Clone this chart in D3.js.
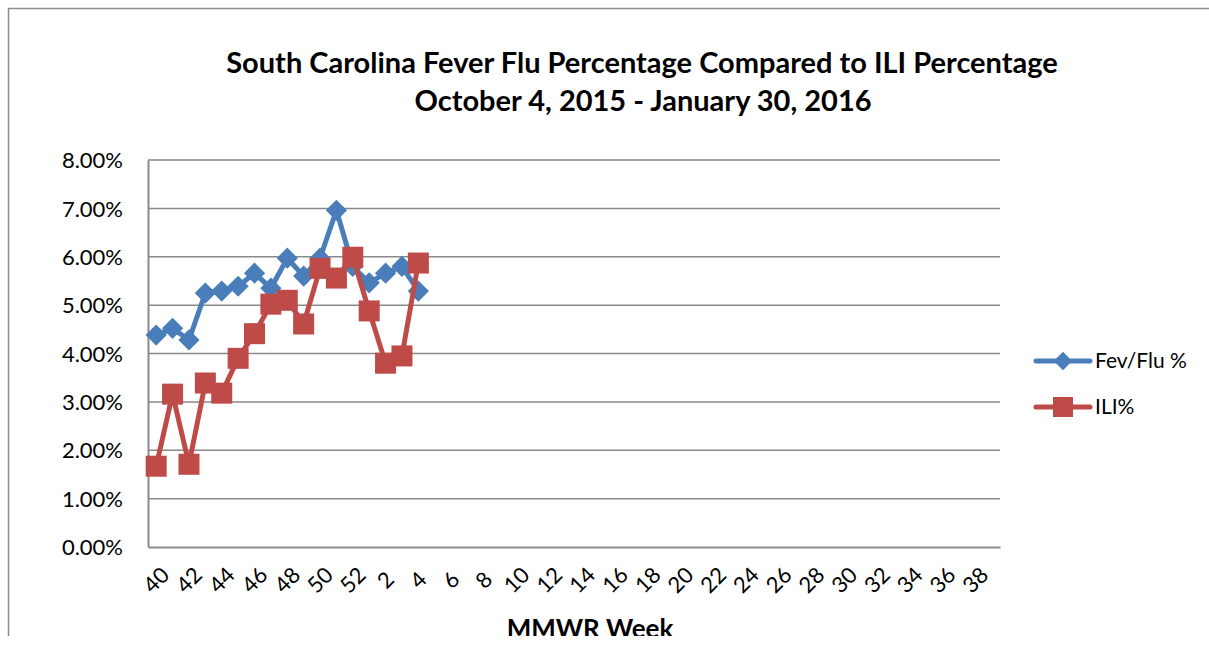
<!DOCTYPE html>
<html>
<head>
<meta charset="utf-8">
<script src="https://cdn.jsdelivr.net/npm/d3@7"></script>
<style>
  body { margin: 0; background: #fff; }
  svg text { font-family: Lato, "Open Sans", sans-serif; fill: #000; }
</style>
</head>
<body>
<div class="chart"></div>
<script>
// MMWR weeks 40..52 then 1..39
var weeks = d3.range(40, 53).concat(d3.range(1, 40));
var tickWeeks = weeks.filter(function(w, i) { return i % 2 === 0; });

// Fev/Flu % and ILI% (only first 17 weeks have data)
var fevFlu = [4.38, 4.52, 4.28, 5.25, 5.29, 5.39, 5.66, 5.35, 5.97, 5.60, 5.97, 6.96, 5.80, 5.46, 5.66, 5.80, 5.29];
var ili = [1.67, 3.16, 1.71, 3.39, 3.18, 3.90, 4.41, 5.02, 5.10, 4.61, 5.76, 5.56, 5.99, 4.88, 3.80, 3.95, 5.87];
var yTicks = [0, 1, 2, 3, 4, 5, 6, 7, 8];

var svgWidth = 1209;
var svgHeight = 649;

var margin = { top: 160, right: 209, bottom: 102, left: 148 };
var width = svgWidth - margin.left - margin.right;
var height = svgHeight - margin.top - margin.bottom;

var svg = d3.select(".chart")
  .append("svg")
  .attr("width", svgWidth)
  .attr("height", svgHeight);

// the chart is cut off just below the axis title
svg.append("clipPath")
  .attr("id", "cut")
  .append("rect")
  .attr("x", 0).attr("y", 0)
  .attr("width", svgWidth).attr("height", 636);

var root = svg.append("g").attr("clip-path", "url(#cut)");

// outer frame
root.append("rect")
  .attr("x", 8.5)
  .attr("y", 8.5)
  .attr("width", svgWidth + 10)
  .attr("height", svgHeight + 10)
  .attr("fill", "none")
  .attr("stroke", "#8c8c8c")
  .attr("stroke-width", 1.5);

// titles
root.append("text")
  .attr("x", 642)
  .attr("y", 73)
  .attr("text-anchor", "middle")
  .style("font-size", "29px")
  .style("font-weight", "bold")
  .text("South Carolina Fever Flu Percentage Compared to ILI Percentage");

root.append("text")
  .attr("x", 643)
  .attr("y", 111)
  .attr("text-anchor", "middle")
  .style("font-size", "29px")
  .style("font-weight", "bold")
  .text("October 4, 2015 - January 30, 2016");

var chartGroup = root.append("g")
  .attr("transform", `translate(${margin.left}, ${margin.top})`);

var xScale = d3.scaleBand()
  .domain(weeks)
  .range([0, width]);

var yScale = d3.scaleLinear()
  .domain([0, 8])
  .range([height, 0]);

var xPos = function(w) { return xScale(w) + xScale.bandwidth() / 2; };

// gridlines
chartGroup.append("g")
  .selectAll("line")
  .data(yTicks.slice(1))
  .enter()
  .append("line")
  .attr("x1", 0)
  .attr("x2", width)
  .attr("y1", d => yScale(d))
  .attr("y2", d => yScale(d))
  .attr("stroke", "#8a8a8a")
  .attr("stroke-width", 1.5);

// y axis
var leftAxis = d3.axisLeft(yScale)
  .tickValues(yTicks)
  .tickSize(0)
  .tickPadding(25)
  .tickFormat(d => d.toFixed(2) + "%");

var yAxis = chartGroup.append("g").call(leftAxis);
yAxis.select(".domain").attr("stroke", "#8a8a8a").attr("stroke-width", 2);
yAxis.selectAll("text").style("font-size", "22px").attr("dy", "0.35em");

// x axis
var bottomAxis = d3.axisBottom(xScale)
  .tickValues(tickWeeks)
  .tickSize(0)
  .tickPadding(0);

var xAxis = chartGroup.append("g")
  .attr("transform", `translate(0, ${height})`)
  .call(bottomAxis);
xAxis.select(".domain").attr("stroke", "#8a8a8a").attr("stroke-width", 2);
xAxis.selectAll("text")
  .style("font-size", "22px")
  .attr("text-anchor", "middle")
  .attr("dy", "0.35em")
  .attr("y", 0)
  .attr("transform", "translate(0, 33) rotate(-45)");

// x axis title
root.append("text")
  .attr("x", 590)
  .attr("y", 638)
  .attr("text-anchor", "middle")
  .style("font-size", "26px")
  .style("font-weight", "bold")
  .text("MMWR Week");

var blue = "#4a7ebb";
var red = "#be4b48";

var line = d3.line()
  .x((d, i) => xPos(weeks[i]))
  .y(d => yScale(d));

// Fev/Flu series
chartGroup.append("path")
  .datum(fevFlu)
  .attr("d", line)
  .attr("fill", "none")
  .attr("stroke", blue)
  .attr("stroke-width", 5)
  .attr("stroke-linejoin", "round");

chartGroup.selectAll("rect.fev")
  .data(fevFlu)
  .enter()
  .append("rect")
  .attr("class", "fev")
  .attr("x", -7.5)
  .attr("y", -7.5)
  .attr("width", 15)
  .attr("height", 15)
  .attr("fill", blue)
  .attr("transform", (d, i) => `translate(${xPos(weeks[i])}, ${yScale(d)}) rotate(45)`);

// ILI series
chartGroup.append("path")
  .datum(ili)
  .attr("d", line)
  .attr("fill", "none")
  .attr("stroke", red)
  .attr("stroke-width", 5)
  .attr("stroke-linejoin", "round");

chartGroup.selectAll("rect.ili")
  .data(ili)
  .enter()
  .append("rect")
  .attr("class", "ili")
  .attr("x", (d, i) => xPos(weeks[i]) - 10.5)
  .attr("y", d => yScale(d) - 10.5)
  .attr("width", 21)
  .attr("height", 21)
  .attr("fill", red);

// legend
var legend = root.append("g");
var legendItems = [
  { name: "Fev/Flu %", color: blue, y: 361, shape: "diamond" },
  { name: "ILI%", color: red, y: 407, shape: "square" }
];
legendItems.forEach(function(item) {
  legend.append("line")
    .attr("x1", 1036).attr("x2", 1090)
    .attr("y1", item.y).attr("y2", item.y)
    .attr("stroke", item.color)
    .attr("stroke-width", 5)
    .attr("stroke-linecap", "round");
  if (item.shape === "diamond") {
    legend.append("rect")
      .attr("x", -6.5).attr("y", -6.5).attr("width", 13).attr("height", 13)
      .attr("fill", item.color)
      .attr("transform", `translate(1063, ${item.y}) rotate(45)`);
  } else {
    legend.append("rect")
      .attr("x", 1053).attr("y", item.y - 10).attr("width", 20).attr("height", 20)
      .attr("fill", item.color);
  }
  legend.append("text")
    .attr("x", 1095)
    .attr("y", item.y)
    .attr("dy", "0.35em")
    .style("font-size", "21px")
    .text(item.name);
});
</script>
</body>
</html>
